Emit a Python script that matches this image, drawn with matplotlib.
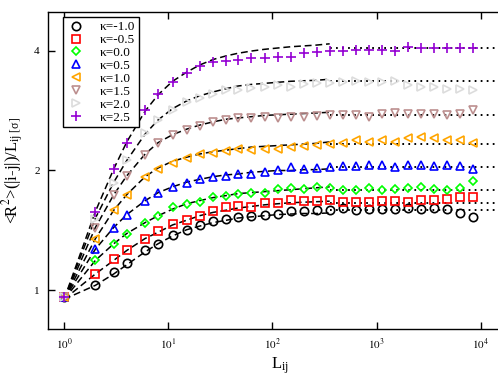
import matplotlib
matplotlib.use("Agg")
import matplotlib.pyplot as plt
from matplotlib.ticker import FixedLocator, NullLocator, FixedFormatter

plt.rcParams['font.family'] = ['Liberation Serif', 'DejaVu Serif']
plt.rcParams['mathtext.fontset'] = 'stix'

# chain separations L_ij
x_pts = [1, 2, 3, 4, 6, 8, 11, 15, 20, 27, 36, 47, 63, 84, 112, 150, 200, 266, 355,
         473, 631, 841, 1122, 1496, 1995, 2660, 3546, 4728, 6304, 8405]
fit_x = x_pts[:19]
plateau_x = [355, 20000]

kappas = ["-1.0", "-0.5", "0.0", "0.5", "1.0", "1.5", "2.0", "2.5"]

k_m10 = [0.96, 1.03, 1.11, 1.17, 1.265, 1.31, 1.38, 1.42, 1.46, 1.49, 1.51, 1.53, 1.54, 1.55,
         1.557, 1.587, 1.587, 1.591, 1.593, 1.606, 1.591, 1.60, 1.597, 1.597, 1.606, 1.60,
         1.61, 1.60, 1.563, 1.53]
k_m05 = [0.96, 1.10, 1.196, 1.26, 1.348, 1.409, 1.47, 1.498, 1.54, 1.587, 1.618, 1.625, 1.62,
         1.655, 1.66, 1.69, 1.675, 1.68, 1.69, 1.667, 1.667, 1.667, 1.675, 1.675, 1.667,
         1.69, 1.69, 1.70, 1.72, 1.715]
k_00 = [0.96, 1.19, 1.31, 1.387, 1.48, 1.54, 1.618, 1.65, 1.67, 1.72, 1.73, 1.75, 1.755, 1.76,
        1.80, 1.81, 1.80, 1.816, 1.81, 1.79, 1.79, 1.81, 1.79, 1.80, 1.81, 1.816, 1.80,
        1.79, 1.81, 1.88]
k_05 = [0.96, 1.267, 1.436, 1.55, 1.675, 1.757, 1.82, 1.86, 1.906, 1.925, 1.935, 1.96, 1.96,
        1.98, 2.0, 2.04, 2.02, 2.03, 2.04, 2.05, 2.05, 2.07, 2.06, 2.04, 2.06, 2.06, 2.05,
        2.06, 2.05, 2.02]
k_10 = [0.96, 1.348, 1.594, 1.74, 1.93, 2.02, 2.09, 2.15, 2.20, 2.21, 2.245, 2.26, 2.255,
        2.26, 2.27, 2.29, 2.305, 2.32, 2.33, 2.34, 2.38, 2.355, 2.38, 2.36, 2.42, 2.43,
        2.415, 2.39, 2.39, 2.34]
k_15 = [0.96, 1.433, 1.737, 1.94, 2.19, 2.34, 2.45, 2.53, 2.59, 2.64, 2.68, 2.71, 2.71, 2.72,
        2.71, 2.72, 2.72, 2.74, 2.76, 2.75, 2.76, 2.73, 2.78, 2.79, 2.77, 2.78, 2.78, 2.76,
        2.78, 2.84]
k_20 = [0.96, 1.513, 1.865, 2.13, 2.48, 2.68, 2.84, 2.97, 3.05, 3.12, 3.18, 3.19, 3.22, 3.25,
        3.27, 3.25, 3.29, 3.31, 3.31, 3.33, 3.35, 3.33, 3.33, 3.35, 3.28, 3.25, 3.25, 3.20,
        3.20, 3.18]
k_25 = [0.96, 1.572, 2.02, 2.345, 2.83, 3.11, 3.33, 3.51, 3.66, 3.74, 3.76, 3.78, 3.83, 3.83,
        3.85, 3.86, 3.94, 3.96, 4.00, 3.99, 4.01, 4.01, 4.01, 3.99, 4.09, 4.06, 4.06, 4.06,
        4.06, 4.06]

fit_m10 = [0.95, 1.03, 1.10, 1.16, 1.25, 1.31, 1.37, 1.42, 1.45, 1.48, 1.50, 1.52, 1.53, 1.54,
           1.55, 1.555, 1.56, 1.56, 1.565]
fit_m05 = [0.95, 1.10, 1.19, 1.26, 1.35, 1.40, 1.46, 1.50, 1.54, 1.57, 1.59, 1.61, 1.625, 1.64,
           1.65, 1.66, 1.665, 1.67, 1.675]
fit_00 = [0.95, 1.19, 1.31, 1.39, 1.48, 1.54, 1.60, 1.65, 1.68, 1.71, 1.73, 1.75, 1.76, 1.77,
          1.78, 1.79, 1.80, 1.81, 1.82]
fit_05 = [0.95, 1.27, 1.44, 1.55, 1.68, 1.76, 1.82, 1.87, 1.90, 1.93, 1.95, 1.96, 1.98, 1.99,
          2.0, 2.0, 2.01, 2.01, 2.02]
fit_10 = [0.95, 1.35, 1.59, 1.74, 1.93, 2.03, 2.11, 2.16, 2.20, 2.23, 2.25, 2.27, 2.29, 2.30,
          2.31, 2.32, 2.33, 2.34, 2.36]
fit_15 = [0.95, 1.44, 1.74, 1.94, 2.20, 2.35, 2.46, 2.54, 2.60, 2.65, 2.69, 2.71, 2.73, 2.75,
          2.76, 2.77, 2.78, 2.79, 2.80]
fit_20 = [0.95, 1.52, 1.87, 2.12, 2.47, 2.68, 2.86, 2.99, 3.08, 3.15, 3.21, 3.26, 3.29, 3.31,
          3.33, 3.35, 3.36, 3.37, 3.39]
fit_25 = [0.95, 1.58, 2.02, 2.36, 2.82, 3.10, 3.35, 3.53, 3.68, 3.80, 3.88, 3.94, 3.99, 4.03,
          4.06, 4.09, 4.11, 4.13, 4.16]

plateaus = [1.59, 1.655, 1.79, 2.04, 2.335, 2.76, 3.35, 4.06]

series = [k_m10, k_m05, k_00, k_05, k_10, k_15, k_20, k_25]
fits = [fit_m10, fit_m05, fit_00, fit_05, fit_10, fit_15, fit_20, fit_25]
colors = ["#000000", "#ff0000", "#00ff00", "#0000ff", "#ffa500", "#bc8f8f", "#dcdcdc", "#9400d3"]
markers = ["o", "s", "D", "^", "<", "v", ">", "+"]
msizes = [6, 5.5, 4.5, 6, 6, 6, 6, 7.5]

fig = plt.figure(figsize=(4.98, 3.85), dpi=100)
ax = fig.add_axes([48 / 498, 56 / 385, 464 / 498, 317 / 385])
ax.set_xscale("log")
ax.set_yscale("log")

for fy, p in zip(fits, plateaus):
    ax.plot(fit_x, fy, color="black", lw=1.1, dashes=(4.5, 2.5), zorder=2)
    ax.plot(plateau_x, [p, p], color="black", lw=1.4, dashes=(0.9, 2.2), zorder=2)

for k, ys, c, m, ms in zip(kappas, series, colors, markers, msizes):
    ax.plot(x_pts, ys, ls="none", marker=m, ms=ms, mfc="none", mec=c, mew=1.2,
            label="κ=" + k, zorder=3)

ax.set_xlim(0.7, 20000)
ax.set_ylim(0.8, 5)

ax.xaxis.set_major_locator(FixedLocator([1, 10, 100, 1000, 10000]))
ax.xaxis.set_major_formatter(FixedFormatter([r"$10^0$", r"$10^1$", r"$10^2$", r"$10^3$", r"$10^4$"]))
ax.xaxis.set_minor_locator(NullLocator())
ax.yaxis.set_major_locator(FixedLocator([1, 2, 4]))
ax.yaxis.set_major_formatter(FixedFormatter(["1", "2", "4"]))
ax.yaxis.set_minor_locator(NullLocator())
ax.tick_params(which="both", direction="in", top=True, right=True, length=5,
               width=1, labelsize=8, pad=6)
for s in ax.spines.values():
    s.set_linewidth(1.0)

ax.set_xlabel(r"L$_{\mathregular{ij}}$", fontsize=12, labelpad=2)
ax.set_ylabel(r"<R$^2$>(|i-j|)/L$_{\mathregular{ij\ [σ]}}$", fontsize=12, labelpad=6)

leg = ax.legend(loc="upper left", bbox_to_anchor=(0.032, 0.984), borderaxespad=0,
                fancybox=False, edgecolor="black", framealpha=1, fontsize=9.5,
                labelspacing=0.05, handlelength=1.4, handletextpad=1.1, borderpad=0.3)
leg.get_frame().set_linewidth(1.0)

fig.savefig("out.png", dpi=100)
